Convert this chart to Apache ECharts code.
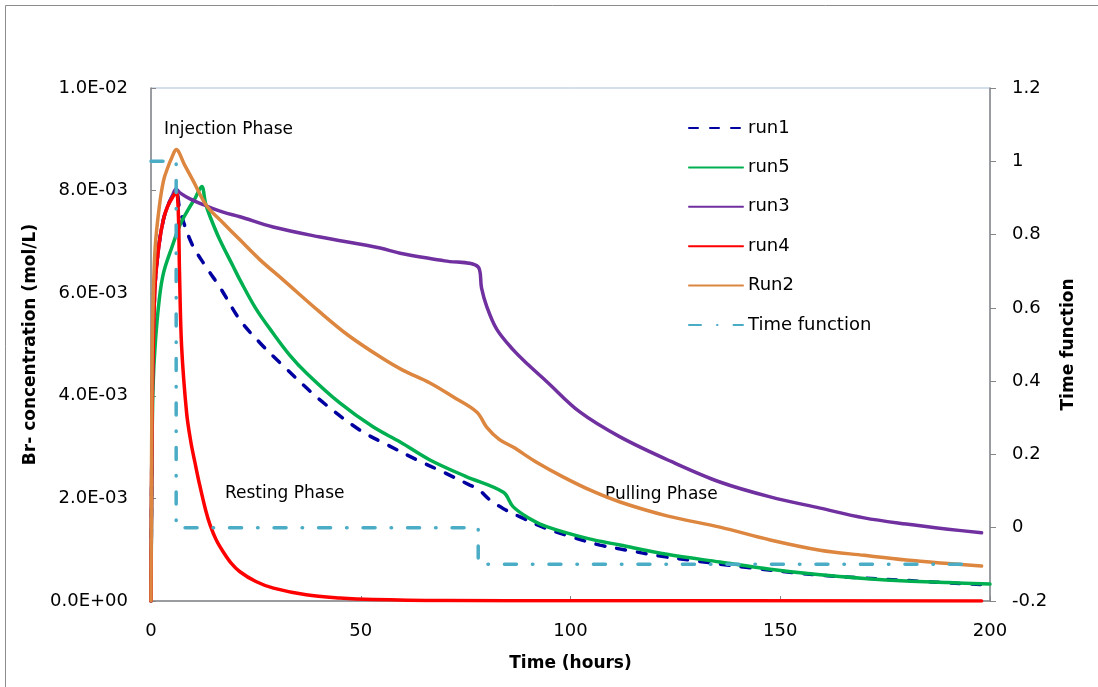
<!DOCTYPE html>
<html>
<head>
<meta charset="utf-8">
<script src="https://cdn.jsdelivr.net/npm/echarts@6/dist/echarts.min.js"></script>
<style>
  html, body { margin: 0; padding: 0; background: #fff; }
  #chart { width: 1098px; height: 687px; }
</style>
</head>
<body>
<div id="chart"></div>
<script>
// values in 1E-3 mol/L
const run1Time = [0, 0.25, 0.5, 1, 2, 3, 4, 5, 6, 6.9, 9.7, 13.3, 16.4, 21.2, 26, 30.8, 40.3, 49.8, 56.2, 63.4, 70, 76, 78, 80.8, 84, 88, 94, 99.9, 107, 113.5, 121, 130, 143.5, 160, 180, 198];
const run1Conc = [0, 3.5, 4.8, 6.2, 7.0, 7.45, 7.7, 7.88, 8.0, 7.62, 6.97, 6.49, 6.12, 5.48, 5.03, 4.64, 3.92, 3.33, 3.05, 2.75, 2.5, 2.26, 2.18, 1.97, 1.8, 1.64, 1.42, 1.26, 1.09, 0.99, 0.88, 0.78, 0.64, 0.5, 0.4, 0.32];

const run5Time = [0, 0.25, 0.5, 1, 2, 3, 5, 7, 9, 10.5, 12.1, 13, 14.1, 16.4, 19.6, 21.2, 25, 29.1, 33, 37.1, 45, 53, 59.4, 66.5, 75, 84, 86.3, 90, 94.3, 104, 111.8, 123, 135.6, 147.6, 159.5, 170, 180, 190, 200];
const run5Conc = [0, 3.0, 4.2, 5.0, 5.9, 6.4, 6.9, 7.35, 7.65, 7.85, 8.08, 7.75, 7.49, 7.04, 6.52, 6.26, 5.7, 5.22, 4.8, 4.44, 3.86, 3.39, 3.1, 2.75, 2.43, 2.12, 1.84, 1.62, 1.45, 1.22, 1.09, 0.91, 0.76, 0.62, 0.51, 0.44, 0.39, 0.36, 0.33];

const run3Time = [0, 0.25, 0.5, 1, 2, 3, 4, 5, 6, 7, 9.3, 13.3, 17.2, 21.2, 29.1, 40, 54.6, 59.4, 70, 78, 78.8, 80, 82.4, 86.3, 90, 94.3, 102.3, 111.8, 124, 135.6, 147.6, 159.5, 170, 180, 190, 198];
const run3Conc = [0, 3.6, 4.9, 6.2, 7.0, 7.45, 7.7, 7.88, 8.03, 7.95, 7.84, 7.7, 7.58, 7.49, 7.29, 7.1, 6.88, 6.78, 6.63, 6.51, 6.1, 5.75, 5.3, 4.9, 4.6, 4.28, 3.68, 3.2, 2.72, 2.32, 2.03, 1.81, 1.62, 1.5, 1.4, 1.33];

const run4Time = [0, 0.25, 0.5, 1, 2, 3, 4, 5, 6, 6.5, 6.8, 7.3, 8.5, 9.5, 10.5, 11.5, 13, 14.1, 15.5, 17.2, 19, 21.2, 25, 29.2, 37, 45, 53, 70, 100, 198];
const run4Conc = [0, 3.5, 4.8, 6.2, 7.0, 7.45, 7.7, 7.85, 7.97, 7.6, 6.4, 4.96, 3.66, 3.1, 2.69, 2.3, 1.78, 1.48, 1.2, 0.96, 0.75, 0.57, 0.38, 0.25, 0.12, 0.06, 0.03, 0.01, 0.005, 0];

const run2Time = [0, 0.25, 0.5, 1, 2, 3, 4, 5, 6, 8, 10, 13.3, 17.2, 21.2, 26, 31.5, 40, 47, 54.6, 60, 66.5, 72, 77.7, 80, 83, 86.3, 92, 98.2, 105, 111.8, 123, 135.6, 147.6, 159.5, 170, 180, 190, 198];
const run2Conc = [0, 4.5, 5.8, 6.9, 7.7, 8.2, 8.45, 8.65, 8.8, 8.5, 8.2, 7.7, 7.37, 7.04, 6.65, 6.26, 5.65, 5.18, 4.76, 4.5, 4.25, 3.98, 3.68, 3.39, 3.15, 3.0, 2.7, 2.42, 2.15, 1.93, 1.66, 1.44, 1.19, 0.99, 0.89, 0.8, 0.73, 0.68];

const tfTime = [0, 6, 6, 78, 78, 197];
const tfValue = [1, 1, 0, 0, -0.1, -0.1];

const xTicks = { min: 0, max: 200, step: 50 };
const leftTicks = { min: 0, max: 0.01, step: 0.002 };
const rightTicks = { min: -0.2, max: 1.2, step: 0.2 };

const FONT = 'DejaVu Sans';

function pairs(t, v, scale) {
    return t.map((x, i) => [x, v[i] * scale]);
}

function sciLabel(v) {
    let [m, e] = v.toExponential(1).split('e');
    let n = parseInt(e, 10);
    return m + 'E' + (n < 0 ? '-' : '+') + String(Math.abs(n)).padStart(2, '0');
}

function lineSeries(name, data, color, extra) {
    return Object.assign({
        name,
        type: 'line',
        data,
        showSymbol: false,
        symbol: 'none',
        smooth: 0.35,
        lineStyle: { color, width: 3.5, cap: 'round', join: 'round' },
        itemStyle: { color },
        animation: false
    }, extra || {});
}

let chart = echarts.init(document.getElementById('chart'));

chart.setOption({
    backgroundColor: '#fff',
    animation: false,
    textStyle: { fontFamily: FONT },
    grid: {
        left: 151, right: 108, top: 88, bottom: 86,
        show: true, borderColor: '#a9bfdc', borderWidth: 1
    },
    legend: {
        orient: 'vertical',
        left: 683, top: 114,
        itemWidth: 54, itemHeight: 18, itemGap: 21.4,
        itemStyle: { opacity: 0, borderWidth: 0 },
        textStyle: { fontFamily: FONT, fontSize: 18, color: '#000' },
        data: ['run1', 'run5', 'run3', 'run4', 'Run2', 'Time function']
    },
    xAxis: {
        type: 'value',
        min: xTicks.min, max: xTicks.max, interval: xTicks.step,
        name: 'Time (hours)',
        nameLocation: 'middle', nameGap: 54,
        nameTextStyle: { fontFamily: FONT, fontSize: 17, fontWeight: 'bold', color: '#000' },
        axisLine: { lineStyle: { color: '#868686', width: 1.5 } },
        axisTick: { inside: true, length: 5, lineStyle: { color: '#868686' } },
        axisLabel: { margin: 21, fontSize: 18, color: '#000', fontFamily: FONT },
        splitLine: { show: false }
    },
    yAxis: [{
        type: 'value',
        min: leftTicks.min, max: leftTicks.max, interval: leftTicks.step,
        name: 'Br- concentration (mol/L)',
        nameLocation: 'middle', nameGap: 108,
        nameTextStyle: { fontFamily: FONT, fontSize: 17, fontWeight: 'bold', color: '#000' },
        axisLine: { show: true, lineStyle: { color: '#868686', width: 1.5 } },
        axisTick: { show: true, inside: true, length: 5, lineStyle: { color: '#868686' } },
        axisLabel: { margin: 23, fontSize: 18, color: '#000', fontFamily: FONT, formatter: sciLabel },
        splitLine: { show: false }
    }, {
        type: 'value',
        position: 'right',
        min: rightTicks.min, max: rightTicks.max, interval: rightTicks.step,
        name: 'Time function',
        nameLocation: 'middle', nameGap: 70,
        nameTextStyle: { fontFamily: FONT, fontSize: 17, fontWeight: 'bold', color: '#000' },
        axisLine: { show: true, lineStyle: { color: '#868686', width: 1.5 } },
        axisTick: { show: true, inside: false, length: 6, lineStyle: { color: '#868686' } },
        axisLabel: { margin: 22, fontSize: 18, color: '#000', fontFamily: FONT },
        splitLine: { show: false }
    }],
    series: [
        lineSeries('run1', pairs(run1Time, run1Conc, 1e-3), '#0000a0', {
            lineStyle: { color: '#0000a0', width: 3.5, type: [9, 12], cap: 'round' }
        }),
        lineSeries('run5', pairs(run5Time, run5Conc, 1e-3), '#00b050'),
        lineSeries('run3', pairs(run3Time, run3Conc, 1e-3), '#7030a0'),
        lineSeries('run4', pairs(run4Time, run4Conc, 1e-3), '#ff0000'),
        lineSeries('Run2', pairs(run2Time, run2Conc, 1e-3), '#dc863f'),
        lineSeries('Time function', pairs(tfTime, tfValue, 1), '#4bacc6', {
            yAxisIndex: 1,
            smooth: false,
            lineStyle: { color: '#4bacc6', width: 3.5, type: [12, 16, 0.5, 16], cap: 'round' }
        })
    ],
    graphic: [
        { type: 'rect', silent: true, shape: { x: 5.5, y: 5.5, width: 1200, height: 1000 },
          style: { fill: null, stroke: '#8c8c8c', lineWidth: 1 } },
        { type: 'text', left: 164, top: 121, silent: true,
          style: { text: 'Injection Phase', font: '17px "DejaVu Sans"', fill: '#000' } },
        { type: 'text', left: 225, top: 485, silent: true,
          style: { text: 'Resting Phase', font: '17px "DejaVu Sans"', fill: '#000' } },
        { type: 'text', left: 605, top: 486, silent: true,
          style: { text: 'Pulling Phase', font: '17px "DejaVu Sans"', fill: '#000' } }
    ]
});
</script>
</body>
</html>
